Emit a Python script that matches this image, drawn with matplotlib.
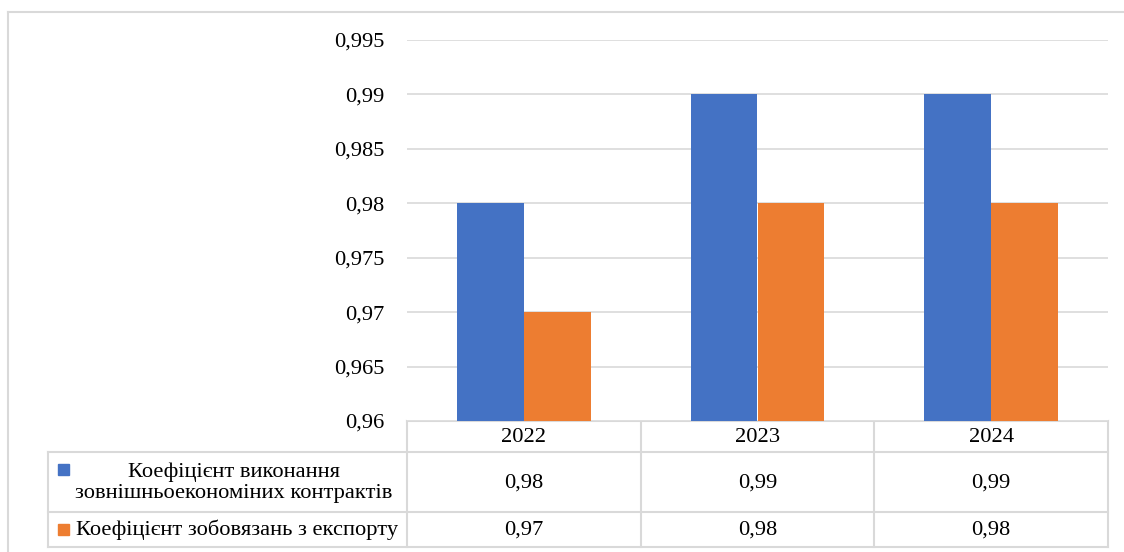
import numpy as np
import matplotlib.pyplot as plt

# data
years = ["2022", "2023", "2024"]
series_names = ["Коефіцієнт виконання\nзовнішньоекономіних контрактів",
                "Коефіцієнт зобовязань з експорту"]
contracts = [0.98, 0.99, 0.99]
export_obl = [0.97, 0.98, 0.98]
colors = ["#4472C4", "#ED7D31"]
yticks = [0.96, 0.965, 0.97, 0.975, 0.98, 0.985, 0.99, 0.995]

grid_c = "#d9d9d9"
plt.rcParams['font.family'] = 'serif'
plt.rcParams['font.serif'] = ['Liberation Serif', 'Times New Roman', 'DejaVu Serif']
fs = 16.2

W, H = 1124, 552
fig = plt.figure(figsize=(W / 100, H / 100), dpi=100)

def fx(px):
    return px / W

def fy(py):
    return 1 - py / H

# layout in pixels
left, right, top, bottom = 407, 1108, 40, 421
ax = fig.add_axes([fx(left), fy(bottom), fx(right - left), (bottom - top) / H])
x = np.arange(len(years))
bw = 0.2854
ax.bar(x - bw / 2, contracts, bw, color=colors[0], lw=0, antialiased=False, zorder=3)
ax.bar(x + bw / 2, export_obl, bw, color=colors[1], lw=0, antialiased=False, zorder=3)
ax.set_xlim(-0.5, len(years) - 0.5)
ax.set_ylim(yticks[0], yticks[-1])
ax.set_yticks(yticks)
ax.set_yticklabels([f"{v:g}".replace('.', ',') for v in yticks], fontsize=fs)
ax.tick_params(axis='y', length=0, pad=16)
ax.set_xticks([])
ax.grid(axis='y', color=grid_c, lw=1.2, zorder=0)
for s in ax.spines.values():
    s.set_visible(False)

# overlay for table and border
ov = fig.add_axes([0, 0, 1, 1], zorder=-1)
ov.set_xlim(0, W)
ov.set_ylim(H, 0)
ov.axis('off')
lw = 1.5
# outer chart border
ov.plot([8, W], [12, 12], color=grid_c, lw=lw)
ov.plot([8, 8], [12, H], color=grid_c, lw=lw)

# data table
col_edges = np.linspace(left, right, len(years) + 1)
row_y = [421, 452, 512, 547]
lab_left = 48
ov.plot([left, right], [row_y[0]] * 2, color=grid_c, lw=lw)
for yy in row_y[1:]:
    ov.plot([lab_left, right], [yy, yy], color=grid_c, lw=lw)
ov.plot([lab_left, lab_left], [row_y[1], row_y[3]], color=grid_c, lw=lw)
for xx in col_edges:
    ov.plot([xx, xx], [row_y[0], row_y[3]], color=grid_c, lw=lw)

centers = (col_edges[:-1] + col_edges[1:]) / 2
for c, yr in zip(centers, years):
    ov.text(c, (row_y[0] + row_y[1]) / 2 + 1, yr, fontsize=fs, ha='center', va='center')
for r, vals in enumerate([contracts, export_obl]):
    ym = (row_y[r + 1] + row_y[r + 2]) / 2 + 1
    for c, v in zip(centers, vals):
        ov.text(c, ym, f"{v:g}".replace('.', ','), fontsize=fs, ha='center', va='center')

# legend keys in table
ov.add_patch(plt.Rectangle((58, 464), 11, 11, color=colors[0]))
ov.text(234, 483, series_names[0], fontsize=fs, ha='center', va='center', linespacing=1.12)
ov.add_patch(plt.Rectangle((58, 524), 11, 11, color=colors[1]))
ov.text(237, 530, series_names[1], fontsize=fs, ha='center', va='center')

fig.savefig("out.png", dpi=100)
